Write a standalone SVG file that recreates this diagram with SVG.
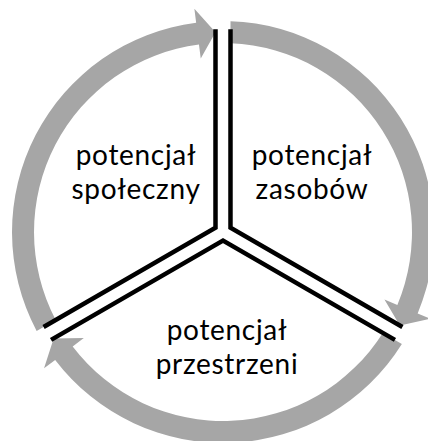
<svg xmlns="http://www.w3.org/2000/svg" width="428" height="441" viewBox="0 0 428 441">
  <style>
    .arrow { fill: #A6A6A6; stroke: none; }
    .edge { fill: none; stroke: #000000; stroke-width: 4.5; stroke-linejoin: miter; stroke-linecap: butt; }
    .label { font-family: Lato, "Open Sans", sans-serif; font-size: 28px; letter-spacing: 0.7px; fill: #000000; text-anchor: middle; }
  </style>
  <defs>
    <path id="arc-arrow" d="M36.64,330.93 A211,211 0 0 1 196.16,22.72 L194.38,8.83 L215.5,32.14 L200.74,58.42 L198.96,44.54 A189,189 0 0 0 55.71,319.93 Z"/>
    <polyline id="sector-edge" points="215.5,29.14 215.5,227.67 43.57,326.93"/>
  </defs>
  <rect x="0" y="0" width="428" height="441" fill="#FFFFFF"/>
  <g id="connectors">
    <use href="#arc-arrow" class="arrow"/>
    <use href="#arc-arrow" class="arrow" transform="rotate(120 223 232)"/>
    <use href="#arc-arrow" class="arrow" transform="rotate(240 223 232)"/>
  </g>
  <g id="node-spoleczny">
    <use href="#sector-edge" class="edge"/>
    <text class="label" x="136" y="165">potencjał<tspan x="136" dy="34">społeczny</tspan></text>
  </g>
  <g id="node-zasobow">
    <use href="#sector-edge" class="edge" transform="rotate(120 223 232)"/>
    <text class="label" x="312" y="165">potencjał<tspan x="312" dy="34">zasobów</tspan></text>
  </g>
  <g id="node-przestrzeni">
    <use href="#sector-edge" class="edge" transform="rotate(240 223 232)"/>
    <text class="label" x="227" y="340">potencjał<tspan x="227" dy="34">przestrzeni</tspan></text>
  </g>
</svg>
